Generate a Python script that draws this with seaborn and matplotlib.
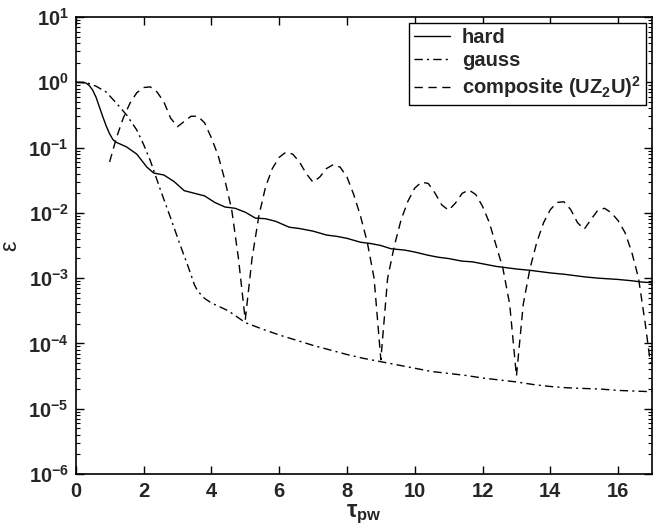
import numpy as np
import pandas as pd
import matplotlib
matplotlib.use("Agg")
import matplotlib.pyplot as plt
import seaborn as sns
from matplotlib.ticker import LogLocator, NullFormatter, FixedLocator

# ---- data (log10 of epsilon) ----
hard_x = [0, 0.3, 0.4, 0.5, 0.6, 0.7, 0.8, 0.9, 1.0, 1.1, 1.2, 1.5, 1.8, 2.1, 2.3, 2.6, 2.9,
          3.2, 3.5, 3.8, 4.1, 4.4, 4.7, 5.0, 5.3, 5.6, 5.9, 6.3, 6.6, 7.0, 7.4, 7.7, 8.0, 8.4,
          8.7, 9.0, 9.3, 9.7, 10.0, 10.4, 10.7, 11.0, 11.4, 11.7, 12.0, 12.4, 12.7, 13.0,
          13.4, 13.7, 14.0, 14.4, 14.7, 15.0, 15.4, 15.7, 16.0, 16.4, 16.7, 17.0]
hard_log = [0, -0.01, -0.05, -0.12, -0.23, -0.38, -0.53, -0.67, -0.79, -0.88, -0.92, -0.99,
            -1.1, -1.3, -1.39, -1.42, -1.52, -1.66, -1.70, -1.74, -1.84, -1.91, -1.93, -1.99,
            -2.08, -2.09, -2.13, -2.22, -2.24, -2.28, -2.34, -2.36, -2.39, -2.45, -2.47,
            -2.50, -2.55, -2.57, -2.60, -2.65, -2.68, -2.70, -2.74, -2.75, -2.78, -2.82,
            -2.84, -2.86, -2.88, -2.90, -2.92, -2.94, -2.96, -2.98, -3.0, -3.01, -3.02, -3.04,
            -3.06, -3.07]

gauss_x = [0, 0.3, 0.6, 0.9, 1.2, 1.5, 1.8, 2.0, 2.2, 2.5, 2.8, 3.1, 3.3, 3.5, 3.6, 3.8, 4.0,
           4.5, 5.0, 5.5, 6.0, 6.5, 7.0, 7.5, 8.0, 8.5, 9.0, 9.5, 10.0, 10.5, 11.0, 11.5, 12.0,
           12.5, 13.0, 13.5, 14.0, 14.5, 15.0, 15.5, 16.0, 16.5, 17.0]
gauss_log = [0, 0, -0.06, -0.15, -0.32, -0.5, -0.73, -0.95, -1.2, -1.65, -2.08, -2.52, -2.8,
             -3.1, -3.2, -3.31, -3.38, -3.5, -3.68, -3.78, -3.87, -3.95, -4.03, -4.1, -4.17,
             -4.23, -4.28, -4.33, -4.38, -4.43, -4.46, -4.49, -4.53, -4.56, -4.59, -4.63,
             -4.66, -4.68, -4.69, -4.70, -4.72, -4.73, -4.74]

comp_x = [1.0, 1.2, 1.4, 1.6, 1.8, 2.0, 2.2, 2.4, 2.6, 2.8, 3.0, 3.2, 3.4, 3.6, 3.8, 4.0, 4.2,
          4.4, 4.6, 4.8, 5.0, 5.2, 5.4, 5.6, 5.8, 6.0, 6.2, 6.4, 6.6, 6.8, 7.0, 7.2, 7.4, 7.6,
          7.8, 8.0, 8.2, 8.4, 8.6, 8.8, 9.0, 9.2, 9.4, 9.6, 9.8, 10.0, 10.2, 10.4, 10.6, 10.8,
          11.0, 11.2, 11.4, 11.6, 11.8, 12.0, 12.2, 12.4, 12.6, 12.8, 13.0, 13.2, 13.4, 13.6,
          13.8, 14.0, 14.2, 14.4, 14.6, 14.8, 15.0, 15.2, 15.4, 15.6, 15.8, 16.0, 16.2, 16.4,
          16.6, 16.8, 16.95]
comp_log = [-1.22, -0.85, -0.55, -0.32, -0.16, -0.08, -0.07, -0.15, -0.3, -0.55, -0.68, -0.6,
            -0.52, -0.52, -0.62, -0.85, -1.12, -1.5, -1.95, -2.7, -3.64, -2.7, -2.05, -1.6,
            -1.32, -1.15, -1.07, -1.1, -1.22, -1.4, -1.53, -1.45, -1.32, -1.26, -1.3, -1.45,
            -1.72, -2.05, -2.45, -3.0, -4.25, -3.0, -2.5, -2.1, -1.82, -1.62, -1.53, -1.55,
            -1.7, -1.88, -1.96, -1.85, -1.7, -1.65, -1.72, -1.9, -2.15, -2.5, -2.85, -3.4,
            -4.5, -3.4, -2.85, -2.45, -2.15, -1.95, -1.84, -1.83, -1.95, -2.15, -2.25, -2.1,
            -1.96, -1.93, -2.0, -2.12, -2.3, -2.6, -3.0, -3.7, -4.3]

labels = ["hard", "gauss", r"composite (UZ$_2$U)$^2$"]
xticks = [0, 2, 4, 6, 8, 10, 12, 14, 16]
yexps = [-6, -5, -4, -3, -2, -1, 0, 1]

# ---- style ----
sns.set_style("white")
plt.rcParams["font.family"] = ["Liberation Sans", "DejaVu Sans"]
plt.rcParams["font.weight"] = "bold"
plt.rcParams["mathtext.fontset"] = "custom"
plt.rcParams["mathtext.rm"] = "Liberation Sans:bold"
plt.rcParams["mathtext.it"] = "Liberation Sans:bold"
plt.rcParams["mathtext.bf"] = "Liberation Sans:bold"
plt.rcParams["mathtext.default"] = "rm"

fig = plt.figure(figsize=(6.62, 5.27), dpi=100)
ax = fig.add_axes([0.1144, 0.1006, 0.8706, 0.8671])

df_h = pd.DataFrame({"x": hard_x, "y": np.power(10.0, hard_log)})
df_g = pd.DataFrame({"x": gauss_x, "y": np.power(10.0, gauss_log)})
df_c = pd.DataFrame({"x": comp_x, "y": np.power(10.0, comp_log)})

sns.lineplot(data=df_h, x="x", y="y", ax=ax, color="black", lw=1.0,
             linestyle="-", label=labels[0])
sns.lineplot(data=df_g, x="x", y="y", ax=ax, color="black", lw=1.0,
             linestyle=(0, (6, 3, 1.5, 3)), label=labels[1])
sns.lineplot(data=df_c, x="x", y="y", ax=ax, color="black", lw=1.0,
             linestyle=(0, (6, 4)), label=labels[2])

ax.set_yscale("log")
ax.set_xlim(0, 17)
ax.set_ylim(1e-6, 1e1)
ax.set_xticks(xticks)
ax.set_xticklabels([str(t) for t in xticks])
ax.yaxis.set_major_locator(FixedLocator([10.0 ** e for e in yexps]))
ax.set_yticklabels([r"$10^{%d}$" % e for e in yexps])
ax.yaxis.set_minor_locator(LogLocator(base=10, subs=np.arange(2, 10), numticks=20))
ax.yaxis.set_minor_formatter(NullFormatter())

ax.tick_params(axis="both", which="both", direction="in", bottom=True, left=True,
               top=True, right=True, color="black", labelsize=14.5)
ax.tick_params(axis="both", which="major", length=6, width=1)
ax.tick_params(axis="y", which="minor", length=3, width=0.8)
ax.tick_params(axis="x", which="minor", length=0)
ax.tick_params(axis="x", which="major", pad=6)
ax.tick_params(axis="y", which="major", pad=5)
for s in ax.spines.values():
    s.set_visible(True)
    s.set_color("black")
    s.set_linewidth(1.2)

ax.set_xlabel(r"$\tau_{\mathrm{pw}}$", fontsize=17, labelpad=0)
ax.xaxis.set_label_coords(0.5, -0.062)
ax.set_ylabel("ε", fontsize=17)
ax.yaxis.set_label_coords(-0.095, 0.5)

leg = ax.legend(loc="upper right", fontsize=14.5, frameon=True, fancybox=False,
                edgecolor="black", framealpha=1, borderaxespad=0.3, borderpad=0.25,
                labelspacing=0.2, handlelength=1.8, handletextpad=0.6)
leg.get_frame().set_linewidth(1.0)

fig.savefig("out.png", dpi=100)
